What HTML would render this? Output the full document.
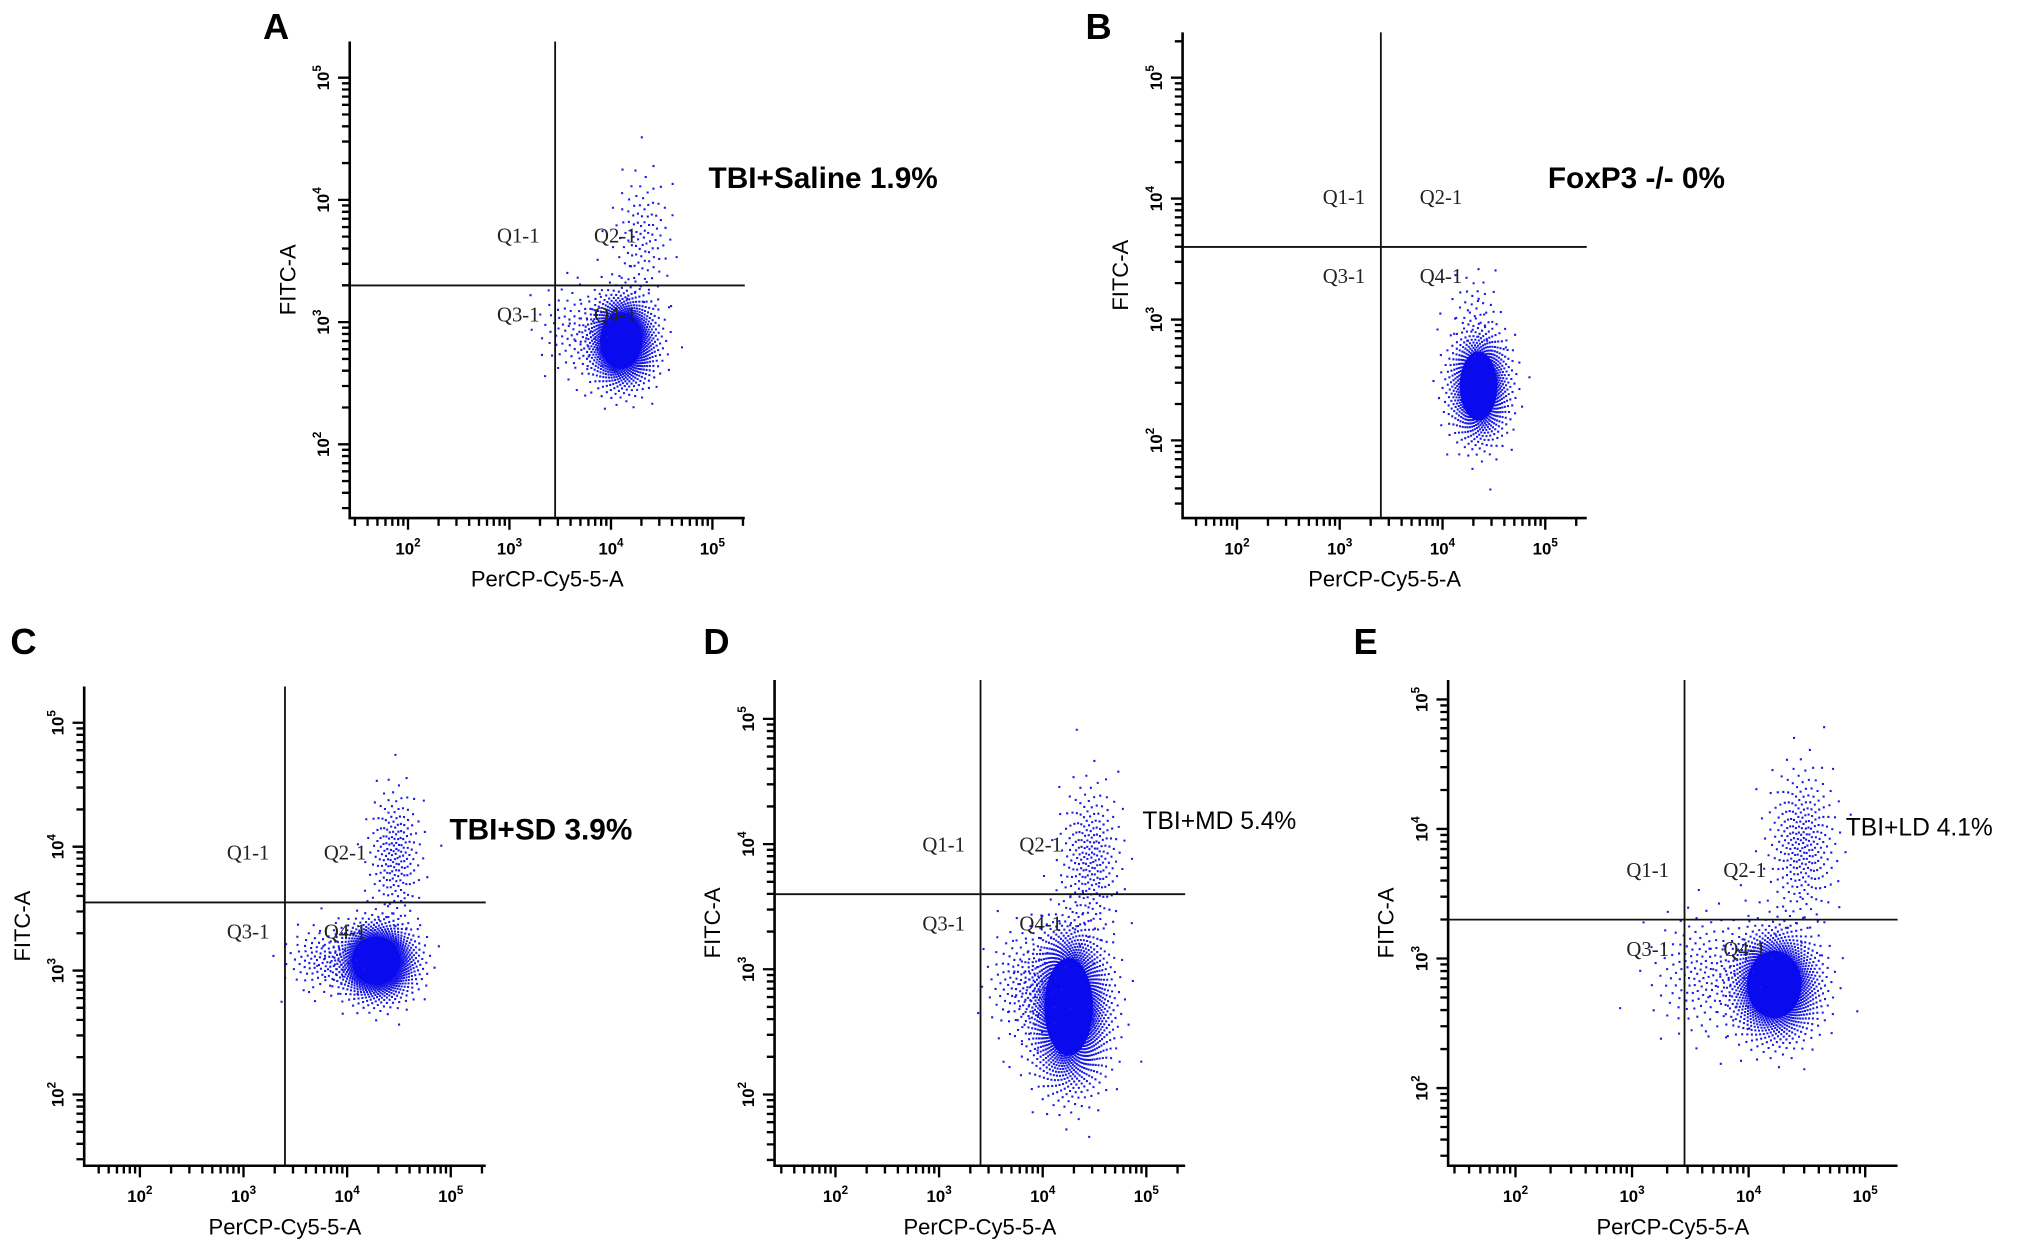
<!DOCTYPE html>
<html><head><meta charset="utf-8"><style>
html,body{margin:0;padding:0;background:#fff;}
svg{display:block;font-family:"Liberation Sans",sans-serif;}
</style></head><body>
<svg id="fig" width="2031" height="1259" viewBox="0 0 1568 972" preserveAspectRatio="none" xmlns="http://www.w3.org/2000/svg">
<rect width="1568" height="972" fill="#fff"/>
</svg>
<script>
// ---- data ----
const panelIds = ['A','B','C','D','E'];
const panelTitles = ['TBI+Saline 1.9%','FoxP3 -/-  0%','TBI+SD 3.9%','TBI+MD 5.4%','TBI+LD 4.1%'];
const gateX = [3.45, 3.4, 3.4, 3.4, 3.45];   // log10 of vertical quadrant gate
const gateY = [3.3, 3.6, 3.55, 3.6, 3.3];      // log10 of horizontal quadrant gate
// clusters per panel: [cx, cy, sx, sy, count] in log10 units
const clustersA = [[4.1,2.85,0.16,0.18,1400],[4.3,3.7,0.15,0.28,110],[3.6,2.95,0.18,0.2,80]];
const clustersB = [[4.35,2.45,0.14,0.22,1100],[4.3,3.1,0.13,0.18,40]];
const clustersC = [[4.28,3.08,0.18,0.15,1500],[4.45,3.95,0.13,0.27,200],[3.75,3.1,0.18,0.14,110]];
const clustersD = [[4.25,2.7,0.18,0.3,2200],[4.45,3.9,0.15,0.3,240],[3.8,2.9,0.18,0.23,140]];
const clustersE = [[4.22,2.8,0.18,0.2,1700],[4.45,3.9,0.15,0.3,280],[3.6,2.9,0.22,0.25,170]];
const clusterSets = [clustersA,clustersB,clustersC,clustersD,clustersE];
const tickDecades = [2,3,4,5];
// ---- layout (view units) ----
const layout = [
 {left:270,top:32,bottom:400,right:575,x2:315,x5:550,y2:343,y5:60,lx:203,ly:30,tx:547,ty:145,ts:23,tb:true},
 {left:913,top:25,bottom:400,right:1225,x2:955,x5:1193,y2:340,y5:60,lx:838,ly:30,tx:1195,ty:145,ts:23,tb:true},
 {left:65,top:530,bottom:900,right:375,x2:108,x5:348,y2:845,y5:558,lx:8,ly:505,tx:347,ty:648,ts:23,tb:true},
 {left:598,top:525,bottom:900,right:915,x2:645,x5:885,y2:845,y5:555,lx:543,ly:505,tx:882,ty:640,ts:19,tb:false},
 {left:1118,top:525,bottom:900,right:1465,x2:1170,x5:1440,y2:840,y5:540,lx:1045,ly:505,tx:1425,ty:645,ts:19,tb:false}
];
const svg=document.getElementById('fig');
const NS='http://www.w3.org/2000/svg';
function mk(tag,attrs,parent){const e=document.createElementNS(NS,tag);for(const k in attrs)e.setAttribute(k,attrs[k]);(parent||svg).appendChild(e);return e;}
panelIds.forEach((id,pi)=>{
 const L=layout[pi];
 const g=mk('g',{});
 
 
 const xs=v=>L.x2+(v-2)*(L.x5-L.x2)/3;
 const ys=v=>L.y2-(v-2)*(L.y2-L.y5)/3;
 // points
 const pg=mk('g',{fill:'#1818e8'},g);
 
 
 clusterSets[pi].forEach((c,ci)=>{
  const n=c[4];let d='';
  for(let i=0;i<n;i++){
   const r=Math.sqrt(-2*Math.log(1-(i+0.5)/n));
   const a=i*2.399963;
   const px=xs(c[0]+c[2]*r*Math.cos(a)), py=ys(c[1]+c[3]*r*Math.sin(a));
   if(px<L.left+2||px>L.right||py<L.top||py>L.bottom-2)continue;
   d+='M'+px.toFixed(1)+' '+py.toFixed(1)+'h1.6v1.6h-1.6z';
  }
  mk('path',{d:d},pg);
  if(ci===0){
   const e=mk('ellipse',{cx:xs(c[0]),cy:ys(c[1]),rx:Math.abs(xs(c[0]+c[2]*1.3)-xs(c[0])),ry:Math.abs(ys(c[1]+c[3]*1.3)-ys(c[1])),fill:'#0a0aee'},pg);
   
   
  }
 });
 // axes
 const ax=mk('path',{d:`M${L.left} ${L.top}V${L.bottom}H${L.right}`,stroke:'#000','stroke-width':2,fill:'none'},g);
 
 
 // ticks
 let td='';
 for(let dd=1;dd<=5;dd++){for(let m=1;m<10;m++){const v=dd+Math.log10(m);
  const X=xs(v); if(X>L.left+3&&X<L.right){td+=`M${X.toFixed(1)} ${L.bottom}v${m==1?9:6}`;}
  const Y=ys(v); if(Y>L.top+3&&Y<L.bottom-3){td+=`M${L.left} ${Y.toFixed(1)}h-${m==1?9:6}`;}
 }}
 mk('path',{d:td,stroke:'#000','stroke-width':1.8,fill:'none'},g);
 tickDecades.forEach(dec=>{
  const t=mk('text',{x:xs(dec),y:L.bottom+28,'font-size':13,'font-weight':'bold','text-anchor':'middle'},g);
  
  
  t.innerHTML='10<tspan dy="-6" font-size="9">'+dec+'</tspan>';
  const t2=mk('text',{x:0,y:0,'font-size':13,'font-weight':'bold','text-anchor':'middle',transform:`translate(${L.left-16},${ys(dec)}) rotate(-90)`},g);
  
  
  t2.innerHTML='10<tspan dy="-6" font-size="9">'+dec+'</tspan>';
 });
 const xl=mk('text',{x:(L.left+L.right)/2,y:L.bottom+53,'font-size':17,'text-anchor':'middle'},g);
 xl.textContent='PerCP-Cy5-5-A';
 
 
 const yl=mk('text',{x:0,y:0,'font-size':17,'text-anchor':'middle',transform:`translate(${L.left-42},${(L.top+L.bottom)/2}) rotate(-90)`},g);
 yl.textContent='FITC-A';
 
 
 // gates
 const qx=xs(gateX[pi]), qy=ys(gateY[pi]);
 const gl=mk('path',{d:`M${qx} ${L.top}V${L.bottom}M${L.left} ${qy}H${L.right}`,stroke:'#111','stroke-width':1.4},g);
 
 
 [['Q1-1',qx-12,qy-33,'end'],['Q2-1',qx+30,qy-33,'start'],['Q3-1',qx-12,qy+28,'end'],['Q4-1',qx+30,qy+28,'start']].forEach(q=>{
  const t=mk('text',{x:q[1],y:q[2],'font-size':16,'text-anchor':q[3],'font-family':'Liberation Serif, serif',fill:'#222'},g);
  t.textContent=q[0];
  
  
 });
 const tt=mk('text',{x:L.tx,y:L.ty,'font-size':L.ts,'font-weight':L.tb?'bold':'normal','xml:space':'preserve'},g);
 tt.textContent=panelTitles[pi];
 
 
 const pl=mk('text',{x:L.lx,y:L.ly,'font-size':28,'font-weight':'bold'},g);
 pl.textContent=id;
 
 
});
</script>
</body></html>
